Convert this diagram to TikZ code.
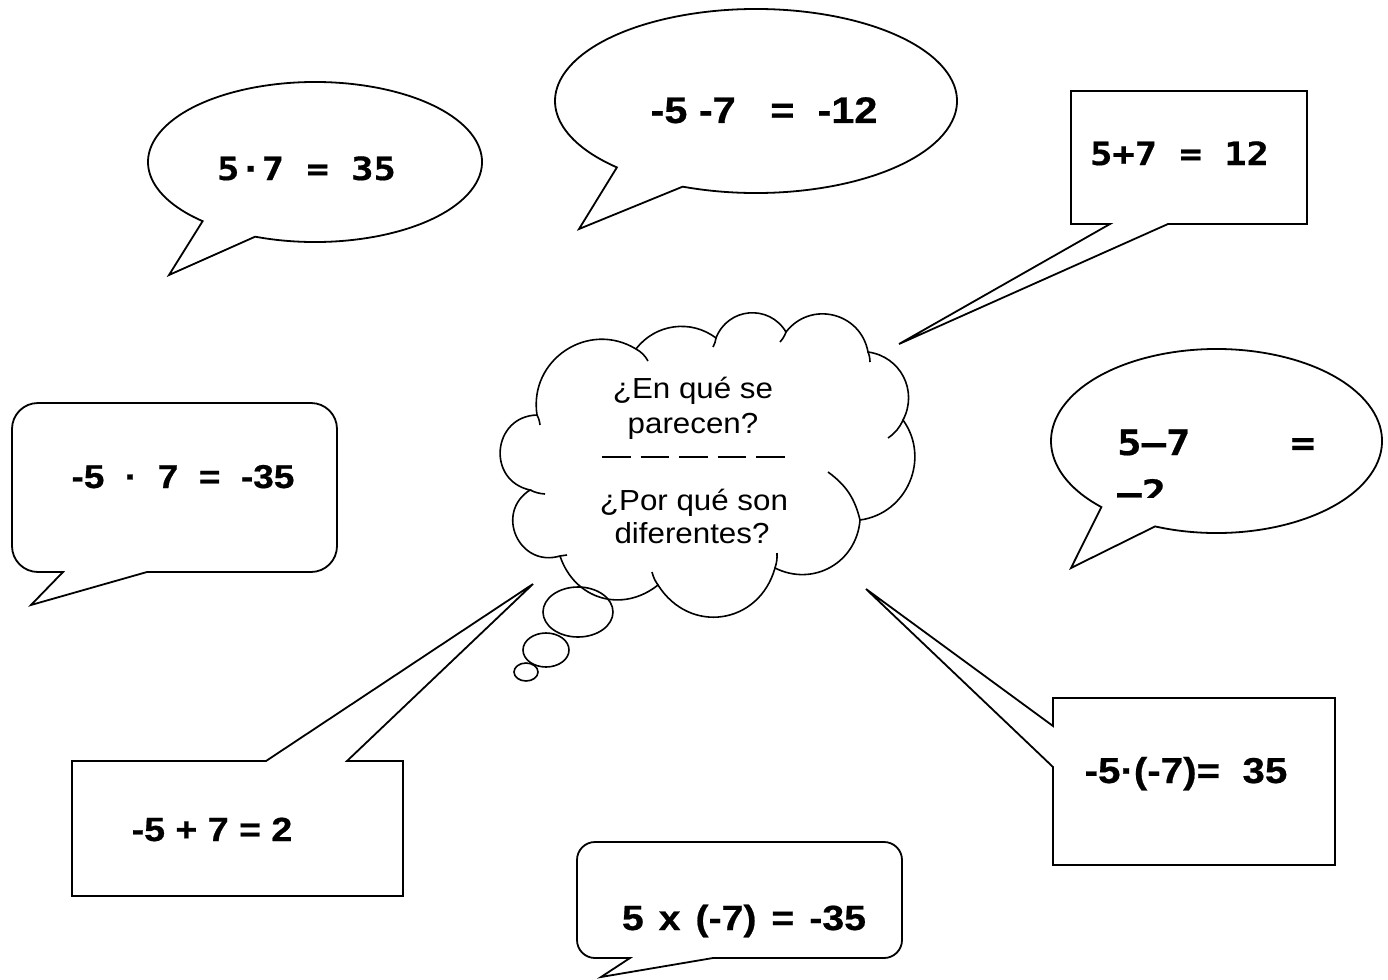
\documentclass[tikz,border=0pt]{standalone}
\usepackage{fontspec}
\setmainfont{Liberation Sans}
\newfontfamily\arialbold{Liberation Sans Bold}[FakeStretch=1.12, FakeBold=0.6]
\newfontfamily\cloudfont{Liberation Sans}[FakeStretch=1.08]
\newfontfamily\courbold{DejaVu Sans Mono Bold}[FakeStretch=1.16, FakeBold=0.5]
\usetikzlibrary{calc}
\tikzset{
  shapeline/.style={draw=black, line width=1.8pt, fill=white, line join=miter},
  hookline/.style={draw=black, line width=1.6pt},
  monotxt/.style={font=\courbold\fontsize{32}{36}\selectfont, inner sep=0pt},
  boldtxt/.style={font=\arialbold\fontsize{#1}{40}\selectfont, inner sep=0pt},
  boldtxt/.default=35,
  cloudtxt/.style={font=\cloudfont\fontsize{29}{34}\selectfont, inner sep=0pt},
}
\begin{document}
\begin{tikzpicture}[x=1pt,y=-1pt]
\useasboundingbox[fill=white] (0,0) rectangle (1388,979);

% ---------- oval callout 5.7 = 35
\coordinate (E1) at (315,162);
\coordinate (tip1) at (169,275);
\draw[shapeline] ($(E1)+(249:167pt and 80pt)$) arc[start angle=249, end angle=587.7, x radius=167pt, y radius=80pt] -- (tip1) -- cycle;
\node[monotxt, anchor=base] (t1) at (306.5,180) {5·7 = 35};

% ---------- oval callout -5 -7 = -12
\coordinate (E2) at (756,101);
\coordinate (tip2) at (579,229);
\draw[shapeline] ($(E2)+(248.6:201pt and 92pt)$) arc[start angle=248.6, end angle=586.2, x radius=201pt, y radius=92pt] -- (tip2) -- cycle;
\node[boldtxt=37, anchor=base] (t2) at (764,123) {-5 -7\ \ \ =\ \ -12};

% ---------- rect callout 5+7 = 12
\coordinate (tip3) at (899,344);
\draw[shapeline] (1110,224) -- (1071,224) -- (1071,91) -- (1307,91) -- (1307,224) -- (1168,224) -- (tip3) -- cycle;
\node[monotxt, anchor=base] (t3) at (1179.5,165) {5+7 = 12};

% ---------- oval callout 5-7 = -2
\coordinate (E3) at (1216.5,441);
\coordinate (tip4) at (1071,568);
\draw[shapeline] ($(E3)+(248.2:165.5pt and 92pt)$) arc[start angle=248.2, end angle=585.9, x radius=165.5pt, y radius=92pt] -- (tip4) -- cycle;
\begin{scope}
\clip (1100,420) rectangle (1340,497);
\node[monotxt, font=\courbold\fontsize{35}{40}\selectfont, anchor=base west] (t4a) at (1117,455) {\makebox[198pt][l]{5–7\hfill=}};
\node[monotxt, font=\courbold\fontsize{35}{40}\selectfont, anchor=base west] (t4b) at (1117,505) {–2};
\end{scope}

% ---------- rounded callout -5 . 7 = -35
\coordinate (tip5) at (31,605);
\draw[shapeline] (147,572) -- (311,572) to[out=0,in=-90] (337,546) -- (337,429) to[out=90,in=0] (311,403)
  -- (38,403) to[out=180,in=90] (12,429) -- (12,546) to[out=-90,in=180] (38,572) -- (63,572) -- (tip5) -- cycle;
\node[boldtxt=33, anchor=base] (t5) at (183,488) {-5\ \ ·\ \ 7\ \ =\ \ -35};

% ---------- rect callout -5 + 7 = 2
\coordinate (tip6) at (533,584);
\draw[shapeline] (266,761) -- (72,761) -- (72,896) -- (403,896) -- (403,761) -- (347,761) -- (tip6) -- cycle;
\node[boldtxt=33.5, anchor=base] (t6) at (212,841) {-5 + 7 = 2};

% ---------- rect callout -5.(-7)= 35
\coordinate (tip7) at (866,589);
\draw[shapeline] (1053,726) -- (1053,698) -- (1335,698) -- (1335,865) -- (1053,865) -- (1053,767) -- (tip7) -- cycle;
\node[boldtxt=36, anchor=base] (t7) at (1186,783) {-5·(-7)=\ \ 35};

% ---------- rounded callout 5 x (-7) = -35
\coordinate (tip8) at (601,977);
\draw[shapeline] (713,958) -- (884,958) to[out=0,in=-90] (902,940) -- (902,860) to[out=90,in=0] (884,842)
  -- (595,842) to[out=180,in=90] (577,860) -- (577,940) to[out=-90,in=180] (595,958) -- (630,958) -- (tip8) -- cycle;
\node[boldtxt=35, anchor=base] (t8) at (744,930) {\spaceskip=15pt 5 x (-7) = -35};

% ---------- thought cloud
\coordinate (c1) at (537,415);
\coordinate (c2) at (636,349);
\coordinate (c3) at (716,338);
\coordinate (c4) at (786,332);
\coordinate (c5) at (868,352);
\coordinate (c6) at (903,420);
\coordinate (c7) at (860,520);
\coordinate (c8) at (775,568);
\coordinate (c9) at (658,585);
\coordinate (c10) at (560,556);
\coordinate (c11) at (530,490);
\draw[shapeline, line width=1.6pt]
  (c1) to[bend left=65, looseness=1.2] (c2)
       to[bend left=45, looseness=1.0] (c3)
       to[bend left=64, looseness=1.2] (c4)
       to[bend left=66, looseness=1.22] (c5)
       to[bend left=55, looseness=1.1] (c6)
       to[bend left=59, looseness=1.12] (c7)
       to[bend left=56, looseness=1.12] (c8)
       to[bend left=66, looseness=1.28] (c9)
       to[bend left=55, looseness=1.15] (c10)
       to[bend left=82, looseness=1.5] (c11)
       to[bend left=83, looseness=1.52] (c1) -- cycle;
% inner hooks of the puffs
\draw[hookline] (c1) to[bend left=10] (540,425);
\draw[hookline] (c2) to[bend left=15] (648,361);
\draw[hookline] (c3) to[bend left=10] (713,347);
\draw[hookline] (c4) to[bend left=10] (780,342);
\draw[hookline] (c5) to[bend left=10] (870,362);
\draw[hookline] (c6) to[bend left=15] (888,438);
\draw[hookline] (828,472) to[bend left=20] (c7);
\draw[hookline] (777,553) to[bend left=10] (c8);
\draw[hookline] (c9) to[bend left=10] (652,572);
\draw[hookline] (567,555) to[bend left=5] (c10);
\draw[hookline] (545,494) to[bend left=10] (c11);
% thought bubbles
\draw[hookline] (578,612) ellipse[x radius=35pt, y radius=25pt];
\draw[hookline] (546,650) ellipse[x radius=23pt, y radius=17pt];
\draw[hookline] (526,672) ellipse[x radius=12pt, y radius=9pt];
% cloud text
\node[cloudtxt, anchor=base] (q1a) at (693,398) {¿En qué se};
\node[cloudtxt, anchor=base] (q1b) at (693,433) {parecen?};
\coordinate (d0) at (602,457);
\coordinate (d1) at (785,457);
\draw[line width=1.4pt, dash pattern=on 28.6pt off 10pt] (d0) -- (d1);
\node[cloudtxt, anchor=base] (q2a) at (694,510) {¿Por qué son};
\node[cloudtxt, anchor=base] (q2b) at (692,543) {diferentes?};
\end{tikzpicture}
\end{document}
